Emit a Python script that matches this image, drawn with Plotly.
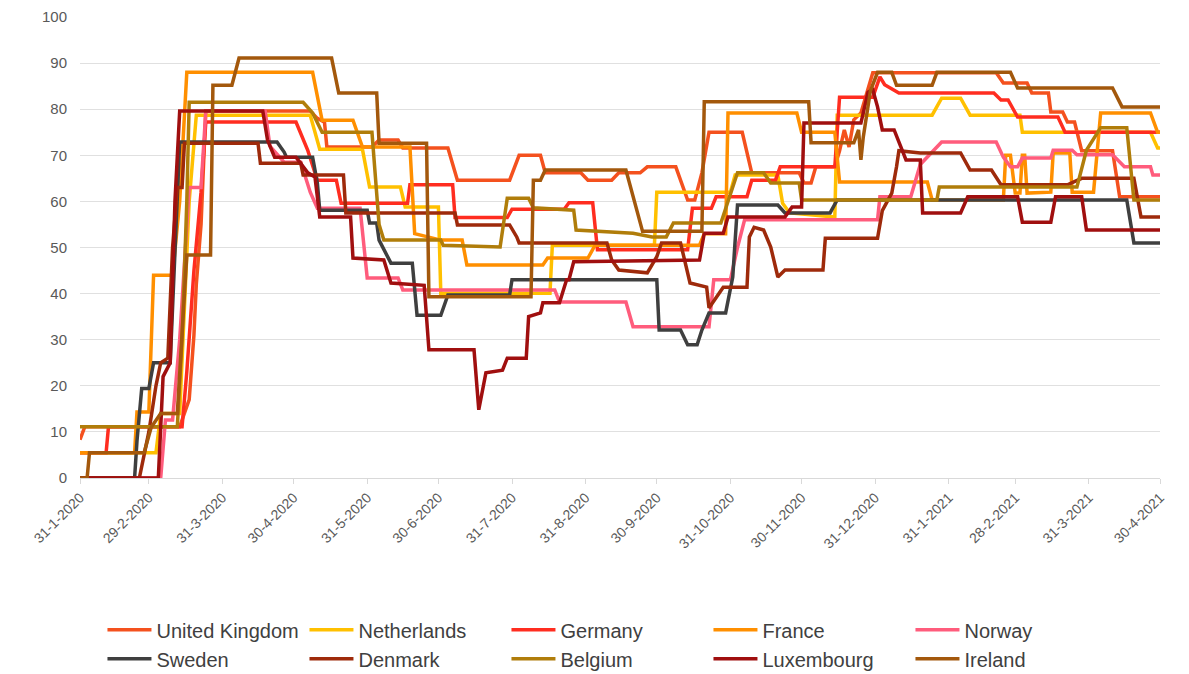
import datetime as dt
import plotly.graph_objects as go

START = dt.date(2020, 1, 31)

# (days since 31-1-2020, stringency value) vertices
united_kingdom = [(0, 8.3), (2, 11.1), (42, 11.1), (46, 17), (48, 31), (49, 42), (51, 55), (52, 70), (53, 79.6),
                  (97, 79.6), (100, 78), (103, 77.2), (104, 71.8), (123, 71.8), (126, 73.3), (134, 73.3), (136, 71.6),
                  (155, 71.6), (159, 64.6), (181, 64.6), (185, 70), (194, 70), (196, 66.2), (211, 66.2), (214, 64.6),
                  (224, 64.6), (227, 66.2), (236, 66.2), (239, 67.5), (251, 67.5), (256, 60.3), (259, 60.3), (262, 66.2),
                  (265, 75), (279, 75), (283, 66.2), (303, 66.2), (305, 64), (308, 64), (310, 67.5), (318, 67.5),
                  (320, 71), (322, 75.5), (324, 71.8), (326, 77.7), (329, 79.2), (334, 87.9), (386, 87.9), (389, 85.7),
                  (399, 85.7), (401, 83.5), (408, 83.5), (409, 79.4), (414, 79.4), (416, 77.2), (419, 77.2), (422, 71),
                  (435, 71), (438, 61), (455, 61)]
netherlands = [(0, 5.5), (32, 5.5), (34, 14), (42, 14), (46, 60), (49, 78.7), (97, 78.7), (101, 71.3), (119, 71.3),
               (122, 63.1), (135, 63.1), (137, 58.8), (151, 58.8), (152, 40.1), (198, 40.1), (199, 50.5), (242, 50.5),
               (243, 62), (274, 62), (276, 65.7), (294, 65.7), (296, 59.6), (299, 57.5), (318, 56.6), (319, 78.7),
               (359, 78.7), (363, 82.4), (371, 82.4), (375, 78.7), (396, 78.7), (397, 75), (451, 75), (454, 71.6),
               (455, 71.6)]
germany = [(0, 5.5), (11, 5.5), (12, 11.1), (43, 11.1), (45, 23), (48, 45), (51, 62), (53, 77.2), (91, 77.2), (96, 71),
           (100, 64.6), (108, 64.6), (110, 59.6), (138, 59.6), (139, 63.6), (157, 63.6), (158, 56.5), (180, 56.5),
           (182, 58.3), (204, 58.3), (206, 59.7), (216, 59.7), (218, 49.5), (256, 49.5), (258, 58.5), (266, 58.5),
           (268, 61), (281, 61), (283, 64.6), (293, 64.6), (295, 67.5), (318, 67.5), (320, 82.6), (334, 82.6),
           (337, 87), (339, 85.3), (345, 83.5), (385, 83.5), (388, 82), (391, 82), (395, 78.3), (412, 78.3),
           (415, 75), (455, 75)]
france = [(0, 5.5), (23, 5.5), (24, 14.3), (29, 14.3), (31, 44), (39, 44), (42, 60), (45, 88), (98, 88), (102, 77.6),
          (115, 77.6), (119, 71.8), (139, 71.8), (141, 53), (152, 51.6), (161, 51.6), (163, 46.2), (195, 46.2),
          (197, 47.7), (214, 47.7), (217, 50.5), (261, 50.5), (263, 53), (272, 53), (273, 79.2), (302, 79.2),
          (304, 75), (318, 75), (320, 64.2), (357, 64.2), (359, 60.3), (389, 60.3), (390, 70), (392, 70),
          (394, 61.8), (396, 61.8), (397, 70), (398, 70), (399, 61.8), (409, 62), (410, 70.5), (417, 70.5),
          (418, 62), (427, 62), (430, 79.2), (451, 79.2), (454, 75), (455, 75)]
norway = [(0, 0), (34, 0), (36, 12.6), (39, 12.6), (42, 30), (45, 55), (46, 63), (51, 63), (53, 79.6), (78, 79.6),
          (80, 72), (86, 68.5), (93, 68.5), (97, 62), (100, 58.5), (118, 58.5), (121, 43.4), (134, 43.4), (136, 40.8),
          (200, 40.8), (202, 38.2), (230, 38.2), (233, 32.8), (265, 32.8), (267, 43), (274, 43), (277, 50), (280, 56),
          (336, 56), (337, 61), (350, 61), (354, 68), (363, 72.9), (386, 72.9), (389, 69.6), (392, 67.5), (395, 67.5),
          (397, 69.4), (409, 69.4), (410, 71.1), (418, 71.1), (420, 70.1), (435, 70.1), (440, 67.5), (451, 67.5),
          (452, 65.7), (455, 65.7)]
sweden = [(0, 0), (23, 0), (24, 8), (26, 19.4), (29, 19.4), (31, 25), (38, 25), (40, 50), (42, 72.9), (83, 72.9),
          (86, 70.7), (87, 69.6), (98, 69.6), (100, 64), (101, 58.1), (121, 58.1), (122, 55.3), (125, 55.3),
          (126, 51.6), (131, 46.6), (140, 46.6), (142, 35.3), (152, 35.3), (155, 39.7), (181, 39.7), (182, 43),
          (243, 43), (244, 32.1), (253, 32.1), (256, 28.9), (260, 28.9), (262, 32.1), (265, 35.8), (272, 35.8),
          (275, 43.6), (277, 59.2), (294, 59.2), (297, 57.5), (316, 57.5), (319, 60.3), (441, 60.3), (444, 51),
          (455, 51)]
denmark = [(0, 0), (25, 0), (29, 10), (32, 20), (34, 25), (37, 26), (39, 50), (41, 63), (43, 63), (44, 72.6),
           (75, 72.6), (76, 68.3), (93, 68.3), (94, 65.7), (111, 65.7), (112, 57.5), (158, 57.5), (159, 54.9),
           (181, 54.9), (184, 52.3), (185, 51), (222, 51), (224, 47.3), (227, 45.1), (239, 44.5), (243, 48),
           (245, 51), (253, 51), (257, 42.3), (264, 41.4), (265, 36.9), (268, 39.3), (271, 41.4), (281, 41.4),
           (282, 52.3), (284, 54.4), (288, 53.8), (291, 50.1), (294, 43.6), (297, 45.1), (313, 45.1), (314, 52),
           (336, 52), (338, 58), (342, 61.8), (344, 67.5), (345, 71), (354, 70.5), (371, 70.5), (375, 66.8),
           (384, 66.8), (388, 63.6), (416, 63.6), (422, 65), (444, 65), (447, 56.6), (455, 56.6)]
belgium = [(0, 11.1), (41, 11.1), (43, 30), (45, 60), (46, 81.5), (94, 81.5), (98, 79.2), (102, 75), (123, 75),
           (126, 55), (128, 51.6), (152, 51.6), (153, 50.5), (177, 50.1), (180, 60.7), (189, 60.7), (191, 58.6),
           (205, 58.1), (208, 58.1), (209, 53.8), (233, 53.1), (241, 52.3), (247, 52.3), (250, 55.3), (270, 55.3),
           (277, 66.2), (288, 66.2), (291, 64), (303, 64), (304, 60.3), (361, 60.3), (362, 63.1), (420, 63.1),
           (424, 71.1), (430, 76), (441, 76), (444, 60.3), (455, 60.3)]
luxembourg = [(0, 0), (33, 0), (35, 22), (38, 25), (40, 60), (42, 79.6), (77, 79.6), (79, 73.3), (82, 69.6),
              (91, 69.6), (96, 66.2), (99, 65.3), (101, 56.6), (114, 56.6), (115, 47.7), (128, 47.3), (131, 42.3),
              (145, 41.8), (147, 27.8), (166, 27.8), (168, 14.8), (171, 22.8), (178, 23.4), (180, 26), (188, 26),
              (189, 35), (194, 35.8), (195, 38), (202, 38), (205, 43), (206, 43), (208, 46.9), (261, 47.3),
              (263, 53.1), (271, 53.1), (273, 56.6), (297, 56.6), (300, 58.8), (304, 58.8), (305, 77), (329, 77),
              (332, 83.7), (334, 84.2), (336, 80.5), (338, 75.5), (343, 75.5), (348, 69), (354, 69), (355, 57.5),
              (371, 57.5), (374, 61), (395, 61), (397, 55.5), (409, 55.5), (411, 61), (422, 61), (424, 53.8),
              (455, 53.8)]
ireland = [(0, 0), (3, 0), (4, 5.5), (27, 5.5), (30, 11), (34, 14), (41, 14), (45, 48.4), (55, 48.4), (56, 85.2),
           (64, 85.2), (67, 91.1), (106, 91.1), (109, 83.5), (125, 83.5), (126, 72.6), (146, 72.6), (147, 39.3),
           (190, 39.3), (191, 64.6), (194, 64.6), (196, 66.8), (230, 66.8), (235, 57.5), (237, 53.5), (262, 53.5),
           (263, 81.6), (307, 81.6), (308, 72.7), (326, 72.7), (328, 75.5), (329, 69), (330, 74), (333, 84),
           (336, 88), (342, 88), (344, 85.2), (359, 85.2), (361, 88), (392, 88), (395, 84.6), (435, 84.6),
           (439, 80.5), (455, 80.5)]

SERIES = [
    ("United Kingdom", united_kingdom, "#F4511E"),
    ("Netherlands", netherlands, "#FFC000"),
    ("Germany", germany, "#FF2D20"),
    ("France", france, "#FF8F00"),
    ("Norway", norway, "#FF5C7C"),
    ("Sweden", sweden, "#3F3F3F"),
    ("Denmark", denmark, "#9E2A0B"),
    ("Belgium", belgium, "#B07D0A"),
    ("Luxembourg", luxembourg, "#A00F0F"),
    ("Ireland", ireland, "#A3580C"),
]

TICK_DATES = ["2020-01-31", "2020-02-29", "2020-03-31", "2020-04-30", "2020-05-31", "2020-06-30", "2020-07-31",
              "2020-08-31", "2020-09-30", "2020-10-31", "2020-11-30", "2020-12-31", "2021-01-31", "2021-02-28",
              "2021-03-31", "2021-04-30"]
TICK_TEXT = ["31-1-2020", "29-2-2020", "31-3-2020", "30-4-2020", "31-5-2020", "30-6-2020", "31-7-2020",
             "31-8-2020", "30-9-2020", "31-10-2020", "30-11-2020", "31-12-2020", "31-1-2021", "28-2-2021",
             "31-3-2021", "30-4-2021"]

FONT = "Arial, Liberation Sans, sans-serif"

fig = go.Figure()
for name, pts, color in SERIES:
    xs = [START + dt.timedelta(days=d) for d, _ in pts]
    ys = [v for _, v in pts]
    fig.add_trace(go.Scatter(x=xs, y=ys, mode="lines", name=name,
                             line=dict(color=color, width=3.5)))

fig.update_layout(
    width=1181, height=666,
    margin=dict(l=72, r=29, t=9, b=196, autoexpand=False),
    paper_bgcolor="white", plot_bgcolor="white",
    font=dict(family=FONT, color="#595959"),
    showlegend=True,
    legend=dict(orientation="h", x=0.0208, xanchor="left", y=-0.287, yanchor="top",
                font=dict(size=20, color="#404040"), entrywidth=143, entrywidthmode="pixels",
                tracegroupgap=0, itemwidth=44),
    xaxis=dict(type="date", range=["2020-01-31", "2021-04-30"], tickvals=TICK_DATES, ticktext=TICK_TEXT,
               tickangle=-45, tickfont=dict(size=14, color="#595959"), showgrid=False, automargin=False,
               showline=True, linecolor="#d9d9d9", ticks="outside", ticklen=5, tickcolor="#d9d9d9",
               zeroline=False),
    yaxis=dict(range=[0, 100], tickvals=list(range(0, 101, 10)), tickfont=dict(size=15, color="#595959"),
               showgrid=True, gridcolor="#e0e0e0", gridwidth=1, zeroline=False, showline=False,
               ticklabelstandoff=12, automargin=False),
)

fig.write_html("out.html")
